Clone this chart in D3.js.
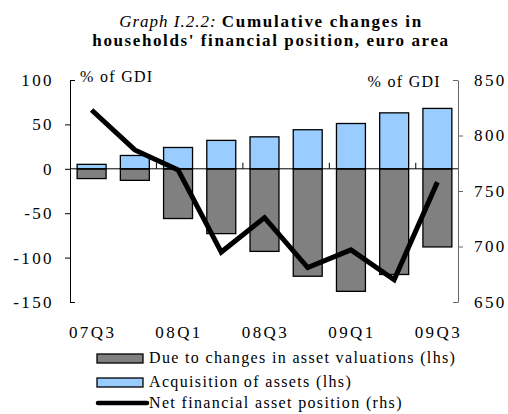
<!DOCTYPE html>
<html>
<head>
<meta charset="utf-8">
<script src="https://cdn.jsdelivr.net/npm/d3@7"></script>
<style>
  body { margin: 0; background: #fff; }
  svg text { font-family: "Liberation Serif", "Times New Roman", serif; fill: #000; }
</style>
</head>
<body>
<div class="chart"></div>
<script>
// quarters and values
var quarters = ["07Q3", "07Q4", "08Q1", "08Q2", "08Q3", "08Q4", "09Q1", "09Q2", "09Q3"];
var valuations = [-11, -13, -56, -73, -93, -121, -138, -119, -88];
var acquisitions = [5, 15, 24, 32, 36, 44, 51, 63, 68];
var netPosition = [823, 787, 769, 695, 726, 681, 697, 670, 758];
var leftTicks = [100, 50, 0, -50, -100, -150];
var rightTicks = [850, 800, 750, 700, 650];
var labelQuarters = ["07Q3", "08Q1", "08Q3", "09Q1", "09Q3"];

var serif = "'Liberation Serif', 'Times New Roman', serif";
var width = 508, height = 414;
var svg = d3.select(".chart").append("svg")
  .attr("width", width)
  .attr("height", height)
  .attr("font-family", serif);

var x = d3.scaleBand().domain(quarters).range([70, 459]).paddingInner(0.33).paddingOuter(0.165);
var yL = d3.scaleLinear().domain([-150, 100]).range([302, 80]);
var yR = d3.scaleLinear().domain([650, 850]).range([302, 80]);

// title
var title = svg.append("text").attr("x", 271).attr("y", 27).attr("text-anchor", "middle")
  .style("font-size", "17px");
title.append("tspan").style("font-style", "italic").style("letter-spacing", "1px").text("Graph I.2.2: ");
title.append("tspan").style("font-weight", "bold").style("letter-spacing", "1.7px").text("Cumulative changes in");
svg.append("text").attr("x", 271).attr("y", 46).attr("text-anchor", "middle")
  .style("font-size", "17px").style("font-weight", "bold").style("letter-spacing", "1.6px")
  .text("households' financial position, euro area");

// bars
svg.selectAll(".val").data(valuations).enter().append("rect")
  .attr("x", (d, i) => x(quarters[i]))
  .attr("width", x.bandwidth())
  .attr("y", yL(0))
  .attr("height", d => yL(d) - yL(0))
  .attr("fill", "#808080").attr("stroke", "#000").attr("stroke-width", 1.3);

svg.selectAll(".acq").data(acquisitions).enter().append("rect")
  .attr("x", (d, i) => x(quarters[i]))
  .attr("width", x.bandwidth())
  .attr("y", d => yL(d))
  .attr("height", d => yL(0) - yL(d))
  .attr("fill", "#99CCFF").attr("stroke", "#000").attr("stroke-width", 1.3);

// zero line with category ticks
svg.append("line").attr("x1", 70).attr("x2", 458).attr("y1", yL(0)).attr("y2", yL(0))
  .attr("stroke", "#000").attr("stroke-width", 1);
svg.selectAll(".xt").data(["08Q1", "08Q3", "09Q1", "09Q3"]).enter().append("line")
  .attr("x1", d => x(d) - x.step() * x.paddingInner() / 2)
  .attr("x2", d => x(d) - x.step() * x.paddingInner() / 2)
  .attr("y1", yL(0)).attr("y2", yL(0) - 6)
  .attr("stroke", "#000");

// x labels
svg.selectAll(".xl").data(labelQuarters).enter().append("text")
  .attr("x", d => x(d) + x.bandwidth() / 2 + 1)
  .attr("y", 338)
  .attr("text-anchor", "middle")
  .style("font-size", "17px").style("letter-spacing", "2.4px")
  .text(d => d);

// left axis
var gL = svg.append("g").attr("transform", "translate(70,0)")
  .call(d3.axisLeft(yL).tickValues(leftTicks).tickFormat(d => String(d)).tickSize(5).tickSizeOuter(0).tickPadding(11));
gL.attr("font-family", serif);
gL.select(".domain").attr("stroke", "#000");
gL.selectAll(".tick").filter(d => d === 100 || d === -150).select("line").attr("x2", 5);
gL.selectAll("text").style("font-size", "17px").style("letter-spacing", "2.4px");

// right axis
var gR = svg.append("g").attr("transform", "translate(458,0)")
  .call(d3.axisRight(yR).tickValues(rightTicks).tickSize(5).tickSizeOuter(0).tickPadding(11));
gR.attr("font-family", serif);
gR.select(".domain").attr("stroke", "#666");
gR.selectAll("line").attr("stroke", "#666");
gR.selectAll(".tick").filter(d => d === 850 || d === 650).select("line").attr("x2", -5);
gR.selectAll("text").style("font-size", "17px").style("letter-spacing", "2.4px");

// unit labels
svg.append("text").attr("x", 80).attr("y", 82).style("font-size", "16px").style("letter-spacing", "1.3px").text("% of GDI");
svg.append("text").attr("x", 441).attr("y", 87).attr("text-anchor", "end").style("font-size", "16px").style("letter-spacing", "1.3px").text("% of GDI");

// net position line
var line = d3.line()
  .x((d, i) => x(quarters[i]) + x.bandwidth() / 2)
  .y(d => yR(d));
svg.append("path").datum(netPosition)
  .attr("d", line)
  .attr("fill", "none").attr("stroke", "#000").attr("stroke-width", 5)
  .attr("stroke-linejoin", "miter");

// legend
var legend = svg.append("g");
legend.append("rect").attr("x", 97).attr("y", 354).attr("width", 46).attr("height", 9)
  .attr("fill", "#808080").attr("stroke", "#000").attr("stroke-width", 1.3);
legend.append("text").attr("x", 149).attr("y", 363).style("font-size", "16px").style("letter-spacing", "1.35px")
  .text("Due to changes in asset valuations (lhs)");
legend.append("rect").attr("x", 97).attr("y", 378).attr("width", 46).attr("height", 9)
  .attr("fill", "#99CCFF").attr("stroke", "#000").attr("stroke-width", 1.3);
legend.append("text").attr("x", 149).attr("y", 387).style("font-size", "16px").style("letter-spacing", "1.35px")
  .text("Acquisition of assets (lhs)");
legend.append("line").attr("x1", 98).attr("x2", 147).attr("y1", 403).attr("y2", 403)
  .attr("stroke", "#000").attr("stroke-width", 4.5).attr("stroke-linecap", "round");
legend.append("text").attr("x", 149).attr("y", 408).style("font-size", "16px").style("letter-spacing", "1.35px")
  .text("Net financial asset position (rhs)");
</script>
</body>
</html>
